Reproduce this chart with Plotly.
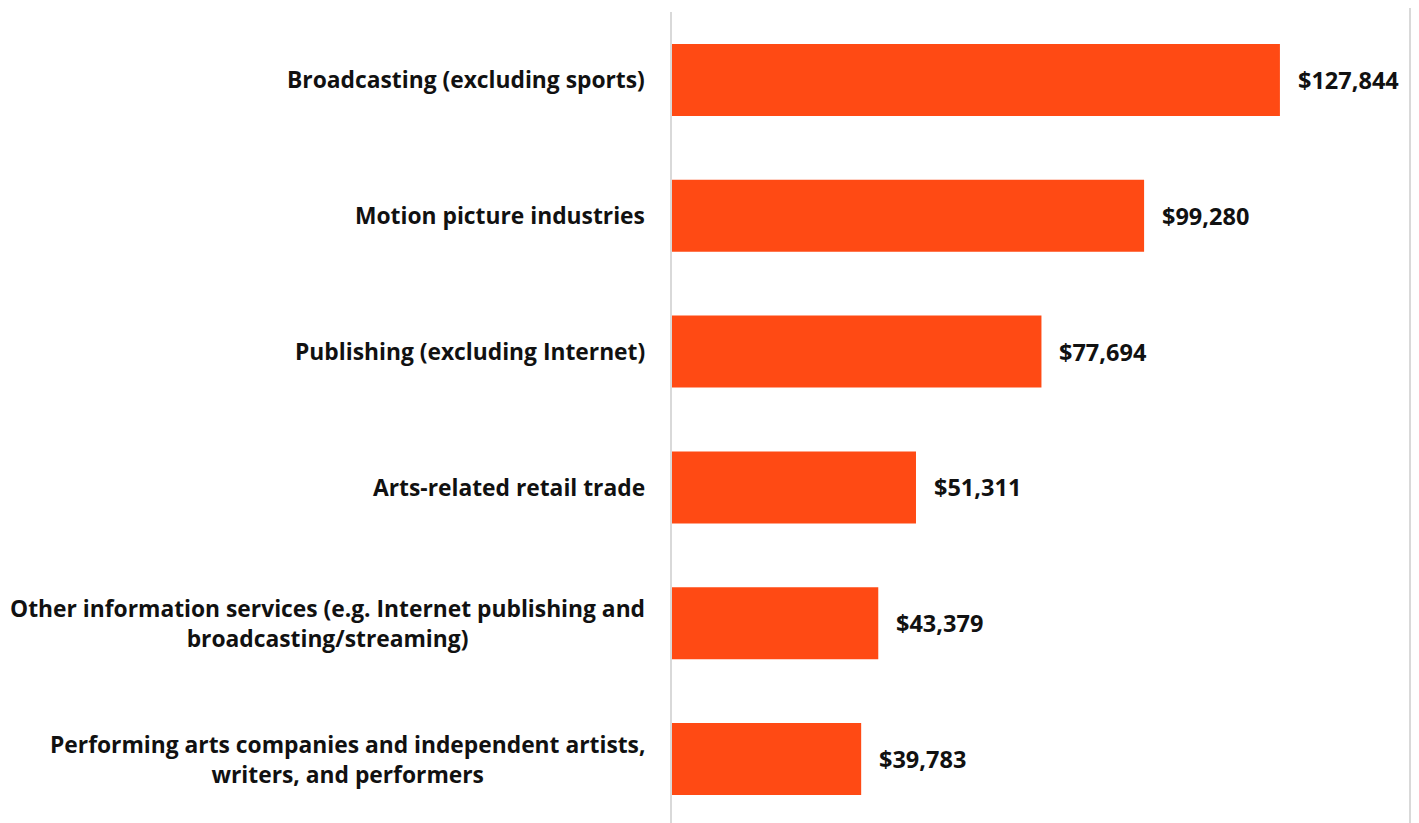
import plotly.graph_objects as go

categories = [
    "Broadcasting (excluding sports)",
    "Motion picture industries",
    "Publishing (excluding Internet)",
    "Arts-related retail trade",
    "Other information services (e.g. Internet publishing and<br>broadcasting/streaming)",
    "Performing arts companies and independent artists,<br>writers, and performers",
]
values = [127844, 99280, 77694, 51311, 43379, 39783]
value_labels = ["$127,844", "$99,280", "$77,694", "$51,311", "$43,379", "$39,783"]

BAR_COLOR = "#FF4A14"
FONT = "Open Sans"

W, H = 1419, 823
plot_left = 664
plot_right = 1402
xmax = 155200

fig = go.Figure()
fig.add_trace(go.Bar(
    x=values, y=categories, orientation="h",
    marker=dict(color=BAR_COLOR, line=dict(width=0)),
    width=0.53, hoverinfo="skip",
))

annotations = []
for c, v, lab in zip(categories, values, value_labels):
    annotations.append(dict(
        x=0, y=c, xref="x", yref="y", text="<b>" + c + "</b>",
        xanchor="right", yanchor="middle", align="center", xshift=-25,
        showarrow=False, font=dict(family=FONT, size=22.8, color="#111111"),
    ))
    annotations.append(dict(
        x=v, y=c, xref="x", yref="y", text="<b>" + lab + "</b>",
        xanchor="left", yanchor="middle", xshift=16,
        showarrow=False, font=dict(family=FONT, size=23.5, color="#111111"),
    ))

fig.update_layout(
    width=W, height=H,
    margin=dict(l=plot_left, r=W - plot_right, t=4, b=4, pad=0),
    paper_bgcolor="white", plot_bgcolor="white",
    showlegend=False,
    annotations=annotations,
    xaxis=dict(range=[0, xmax], showgrid=False, zeroline=False,
               showticklabels=False, showline=False, ticks=""),
    yaxis=dict(autorange="reversed", showgrid=False, zeroline=False,
               showticklabels=False, showline=True, linecolor="#d9d9d9",
               linewidth=1.5, ticks=""),
    shapes=[dict(type="line", xref="paper", yref="paper", x0=1, x1=1,
                 y0=-0.02, y1=1.02, line=dict(color="#d9d9d9", width=2))],
)

fig.write_html("out.html")
